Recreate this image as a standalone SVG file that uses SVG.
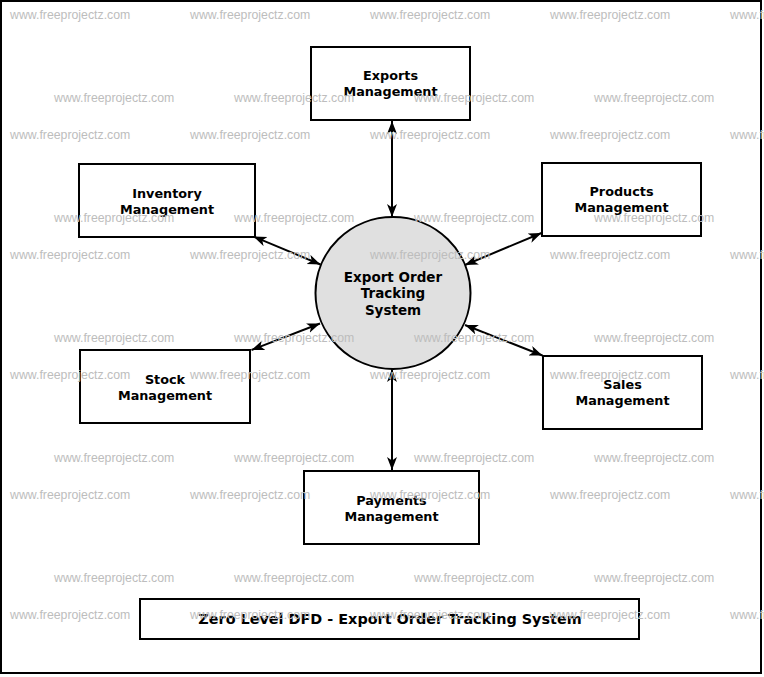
<svg xmlns="http://www.w3.org/2000/svg" width="764" height="677" viewBox="0 0 764 677">
<defs>
<style>
.box{fill:#ffffff;stroke:#000000;stroke-width:2}
.lbl{font-family:"DejaVu Sans",Verdana,sans-serif;font-weight:bold;font-size:12.8px;fill:#000000;text-anchor:middle}
.clbl{font-family:"DejaVu Sans",Verdana,sans-serif;font-weight:bold;font-size:13.5px;fill:#000000;text-anchor:middle}
.ttl{font-family:"DejaVu Sans",Verdana,sans-serif;font-weight:bold;font-size:14.4px;fill:#000000;text-anchor:middle}
.wm{font-family:"Liberation Sans",Arial,sans-serif;font-size:12.3px;fill:#bdbdbd}
.flow{stroke:#000000;stroke-width:2;fill:none;marker-start:url(#arr);marker-end:url(#arr)}
</style>
<marker id="arr" markerUnits="userSpaceOnUse" markerWidth="14" markerHeight="11" refX="13" refY="5" orient="auto-start-reverse">
<path d="M0,0 L13,5 L0,10 L3.5,5 Z" fill="#000000"/>
</marker>
</defs>
<rect x="0" y="0" width="764" height="677" fill="#ffffff"/>
<rect x="1" y="1" width="760" height="672" fill="none" stroke="#000000" stroke-width="2"/>

<g id="connectors">
<line class="flow" x1="392" y1="121" x2="392" y2="217"/>
<line class="flow" x1="253.5" y1="236.5" x2="320.5" y2="264.5"/>
<line class="flow" x1="541.5" y1="233" x2="465" y2="265"/>
<line class="flow" x1="251.5" y1="350" x2="320" y2="323.5"/>
<line class="flow" x1="542.5" y1="355.5" x2="465" y2="325"/>
<line class="flow" x1="392" y1="369" x2="392" y2="470"/>
</g>

<g id="process">
<ellipse cx="393" cy="293" rx="77.5" ry="76" fill="#e0e0e0" stroke="#000000" stroke-width="2"/>
<text class="clbl" x="393" y="281.5">Export Order</text>
<text class="clbl" x="393" y="298">Tracking</text>
<text class="clbl" x="393" y="315">System</text>
</g>

<g id="exports">
<rect class="box" x="311" y="47" width="159" height="73"/>
<text class="lbl" x="390.5" y="80">Exports</text>
<text class="lbl" x="390.5" y="96">Management</text>
</g>

<g id="inventory">
<rect class="box" x="79" y="164" width="176" height="73"/>
<text class="lbl" x="167" y="197.5">Inventory</text>
<text class="lbl" x="167" y="213.5">Management</text>
</g>

<g id="products">
<rect class="box" x="542" y="163" width="159" height="73"/>
<text class="lbl" x="621.5" y="196">Products</text>
<text class="lbl" x="621.5" y="212">Management</text>
</g>

<g id="stock">
<rect class="box" x="80" y="350" width="170" height="73"/>
<text class="lbl" x="165" y="383.5">Stock</text>
<text class="lbl" x="165" y="399.5">Management</text>
</g>

<g id="sales">
<rect class="box" x="543" y="356" width="159" height="73"/>
<text class="lbl" x="622.5" y="389">Sales</text>
<text class="lbl" x="622.5" y="405">Management</text>
</g>

<g id="payments">
<rect class="box" x="304" y="471" width="175" height="73"/>
<text class="lbl" x="391.5" y="504.5">Payments</text>
<text class="lbl" x="391.5" y="520.5">Management</text>
</g>

<g id="title">
<rect class="box" x="140" y="599" width="499" height="40"/>
<text class="ttl" x="390" y="624">Zero Level DFD - Export Order Tracking System</text>
</g>

<g id="watermarks">
<text class="wm" x="10" y="19">www.freeprojectz.com</text>
<text class="wm" x="190" y="19">www.freeprojectz.com</text>
<text class="wm" x="370" y="19">www.freeprojectz.com</text>
<text class="wm" x="550" y="19">www.freeprojectz.com</text>
<text class="wm" x="730" y="19">www.freeprojectz.com</text>
<text class="wm" x="54" y="102">www.freeprojectz.com</text>
<text class="wm" x="234" y="102">www.freeprojectz.com</text>
<text class="wm" x="414" y="102">www.freeprojectz.com</text>
<text class="wm" x="594" y="102">www.freeprojectz.com</text>
<text class="wm" x="10" y="139">www.freeprojectz.com</text>
<text class="wm" x="190" y="139">www.freeprojectz.com</text>
<text class="wm" x="370" y="139">www.freeprojectz.com</text>
<text class="wm" x="550" y="139">www.freeprojectz.com</text>
<text class="wm" x="730" y="139">www.freeprojectz.com</text>
<text class="wm" x="54" y="222">www.freeprojectz.com</text>
<text class="wm" x="234" y="222">www.freeprojectz.com</text>
<text class="wm" x="414" y="222">www.freeprojectz.com</text>
<text class="wm" x="594" y="222">www.freeprojectz.com</text>
<text class="wm" x="10" y="259">www.freeprojectz.com</text>
<text class="wm" x="190" y="259">www.freeprojectz.com</text>
<text class="wm" x="370" y="259">www.freeprojectz.com</text>
<text class="wm" x="550" y="259">www.freeprojectz.com</text>
<text class="wm" x="730" y="259">www.freeprojectz.com</text>
<text class="wm" x="54" y="342">www.freeprojectz.com</text>
<text class="wm" x="234" y="342">www.freeprojectz.com</text>
<text class="wm" x="414" y="342">www.freeprojectz.com</text>
<text class="wm" x="594" y="342">www.freeprojectz.com</text>
<text class="wm" x="10" y="379">www.freeprojectz.com</text>
<text class="wm" x="190" y="379">www.freeprojectz.com</text>
<text class="wm" x="370" y="379">www.freeprojectz.com</text>
<text class="wm" x="550" y="379">www.freeprojectz.com</text>
<text class="wm" x="730" y="379">www.freeprojectz.com</text>
<text class="wm" x="54" y="462">www.freeprojectz.com</text>
<text class="wm" x="234" y="462">www.freeprojectz.com</text>
<text class="wm" x="414" y="462">www.freeprojectz.com</text>
<text class="wm" x="594" y="462">www.freeprojectz.com</text>
<text class="wm" x="10" y="499">www.freeprojectz.com</text>
<text class="wm" x="190" y="499">www.freeprojectz.com</text>
<text class="wm" x="370" y="499">www.freeprojectz.com</text>
<text class="wm" x="550" y="499">www.freeprojectz.com</text>
<text class="wm" x="730" y="499">www.freeprojectz.com</text>
<text class="wm" x="54" y="582">www.freeprojectz.com</text>
<text class="wm" x="234" y="582">www.freeprojectz.com</text>
<text class="wm" x="414" y="582">www.freeprojectz.com</text>
<text class="wm" x="594" y="582">www.freeprojectz.com</text>
<text class="wm" x="10" y="619">www.freeprojectz.com</text>
<text class="wm" x="190" y="619">www.freeprojectz.com</text>
<text class="wm" x="370" y="619">www.freeprojectz.com</text>
<text class="wm" x="550" y="619">www.freeprojectz.com</text>
<text class="wm" x="730" y="619">www.freeprojectz.com</text>
</g>
</svg>
